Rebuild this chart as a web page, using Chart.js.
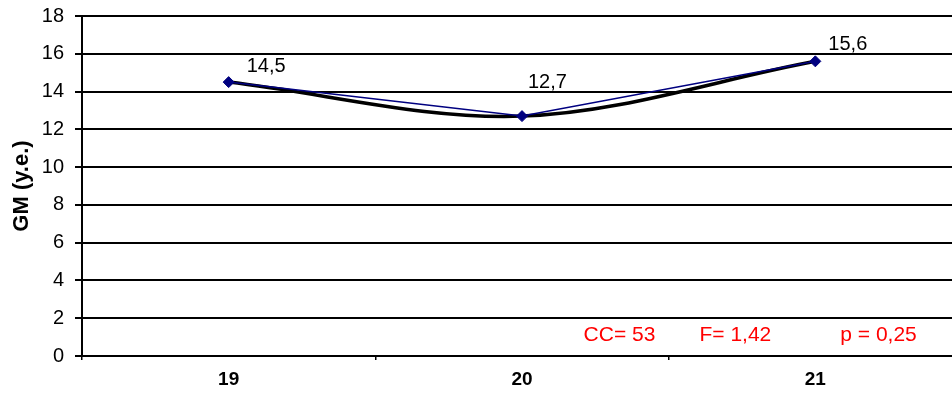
<!DOCTYPE html>
<html>
<head>
<meta charset="utf-8">
<script src="https://cdn.jsdelivr.net/npm/chart.js@4"></script>
<style>
  html, body { margin: 0; padding: 0; overflow: hidden; background: #fff; }
  canvas { display: block; }
</style>
</head>
<body>
<canvas id="c" width="962" height="396" style="width:962px;height:396px"></canvas>
<script>
const categories = ['19', '20', '21'];
const gmValues = [14.5, 12.7, 15.6];
const valueLabels = ['14,5', '12,7', '15,6'];
const yTicks = [0, 2, 4, 6, 8, 10, 12, 14, 16, 18];
const statsTexts = ['CC= 53', 'F= 1,42', 'p = 0,25'];

const FONT = "'Liberation Sans', Arial, sans-serif";
// label placement offsets (px) relative to each point: [dx, dy of baseline]
const labelOffsets = [[18, -10], [6, -28], [13, -11]];
// stats text anchors (category-index position, y value of baseline)
const statsAnchors = [[1.21, 0.8], [1.605, 0.8], [2.085, 0.8]];

const overlayPlugin = {
  id: 'overlay',
  afterDatasetsDraw(chart) {
    const ctx = chart.ctx;
    const meta = chart.getDatasetMeta(0);
    ctx.save();
    ctx.font = '20px ' + FONT;
    ctx.fillStyle = '#000';
    ctx.textAlign = 'left';
    ctx.textBaseline = 'alphabetic';
    meta.data.forEach((pt, i) => {
      ctx.fillText(valueLabels[i], pt.x + labelOffsets[i][0], pt.y + labelOffsets[i][1]);
    });
    const xs = chart.scales.x, ys = chart.scales.y;
    ctx.font = '21px ' + FONT;
    ctx.fillStyle = '#ff0000';
    statsTexts.forEach((t, i) => {
      ctx.fillText(t, xs.getPixelForValue(statsAnchors[i][0]), ys.getPixelForValue(statsAnchors[i][1]));
    });
    ctx.restore();
  }
};

new Chart(document.getElementById('c'), {
  type: 'line',
  data: {
    labels: categories,
    datasets: [
      {
        label: 'GM',
        data: gmValues,
        borderColor: '#000080',
        backgroundColor: '#000080',
        borderWidth: 1.5,
        pointStyle: 'rectRot',
        pointRadius: 5.5,
        pointBorderWidth: 1,
        pointBackgroundColor: '#000080',
        pointBorderColor: '#000080',
        tension: 0,
        order: 0
      },
      {
        label: 'trend',
        data: gmValues,
        borderColor: '#000',
        borderWidth: 3.5,
        pointRadius: 0,
        tension: 0.34,
        fill: false,
        order: 1
      }
    ]
  },
  options: {
    responsive: false,
    animation: false,
    layout: { autoPadding: false, padding: { top: 16, right: 0, left: 0, bottom: 0 } },
    plugins: { legend: { display: false }, tooltip: { enabled: false } },
    scales: {
      x: {
        type: 'category',
        offset: true,
        grid: { display: true, drawOnChartArea: false, drawTicks: true, tickLength: 4, color: '#000', lineWidth: 1.5, offset: true },
        border: { display: true, color: '#000', width: 2 },
        ticks: { color: '#000', font: { family: FONT, size: 19, weight: 'bold' }, padding: 8, maxRotation: 0 },
        afterFit(s) { s.height = 40; s.paddingLeft = 0; s.paddingRight = 0; }
      },
      y: {
        min: 0,
        max: 18,
        afterBuildTicks(s) { s.ticks = yTicks.map(v => ({ value: v })); },
        grid: { color: '#000', lineWidth: 2, drawTicks: true, tickLength: 7 },
        border: { display: true, color: '#000', width: 2 },
        ticks: { color: '#000', font: { family: FONT, size: 20 }, padding: 11 },
        title: { display: true, text: 'GM (y.e.)', color: '#000', font: { family: FONT, size: 22, weight: 'bold' }, padding: { top: 9, bottom: 0 } },
        afterFit(s) { s.width = 82; s.paddingTop = 0; s.paddingBottom = 0; }
      }
    }
  },
  plugins: [overlayPlugin]
});
</script>
</body>
</html>
